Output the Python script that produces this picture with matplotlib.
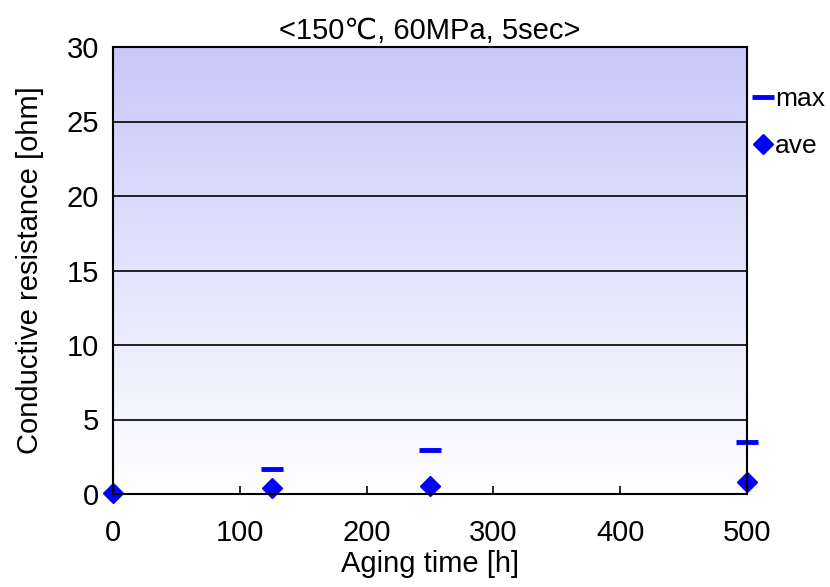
import numpy as np
import matplotlib
matplotlib.use("Agg")
import matplotlib.pyplot as plt
from matplotlib.colors import LinearSegmentedColormap

plt.rcParams['font.family'] = ['Liberation Sans', 'DejaVu Sans']

aging_time = [0, 125, 250, 500]
max_vals = [None, 1.65, 2.95, 3.5]
ave_vals = [0.1, 0.38, 0.52, 0.78]
x_ticks = [0, 100, 200, 300, 400, 500]
y_ticks = [0, 5, 10, 15, 20, 25, 30]
title = "<150\u2103, 60MPa, 5sec>"

fig = plt.figure(figsize=(8.3, 5.87), dpi=100)
ax = fig.add_axes([113/830, 1-494/587, (747-113)/830, (494-47)/587])

cmap = LinearSegmentedColormap.from_list("bg", ["#ffffff", "#c8c8fa"])
grad = np.linspace(0, 1, 256).reshape(-1, 1)
ax.imshow(grad, aspect='auto', cmap=cmap, origin='lower',
          extent=[0, 500, 0, 30], zorder=0, interpolation='bilinear')

for y in y_ticks[1:-1]:
    ax.axhline(y, color='black', lw=1.2, zorder=1)

mx = [(x, v) for x, v in zip(aging_time, max_vals) if v is not None]
ax.plot([p[0] for p in mx], [p[1] for p in mx], linestyle='none', marker='_',
        markersize=16, markeredgewidth=3.5, color='#0000ff', label='max',
        zorder=3, clip_on=False)
ax.plot(aging_time, ave_vals, linestyle='none', marker='D', markersize=10,
        color='#0000ff', label='ave', zorder=4, clip_on=False)

ax.set_xlim(0, 500)
ax.set_ylim(0, 30)
ax.set_xticks(x_ticks)
ax.set_yticks(y_ticks)
ax.tick_params(axis='x', direction='in', length=6, width=1.2, labelsize=21, pad=18)
ax.tick_params(axis='y', direction='out', length=0, width=1.2, labelsize=21, pad=10)
for s in ax.spines.values():
    s.set_linewidth(1.5)
    s.set_zorder(5)

ax.set_xlabel("Aging time [h]", fontsize=21, labelpad=2)
ax.set_ylabel("Conductive resistance [ohm]", fontsize=21, labelpad=16)
ax.set_title(title, fontsize=21, pad=6)

leg = ax.legend(loc='upper left', bbox_to_anchor=(0.988, 0.945), frameon=False,
                fontsize=19, handlelength=0.6, handletextpad=0.15,
                borderaxespad=0.2, labelspacing=0.85)

fig.savefig("out.png", dpi=100)
